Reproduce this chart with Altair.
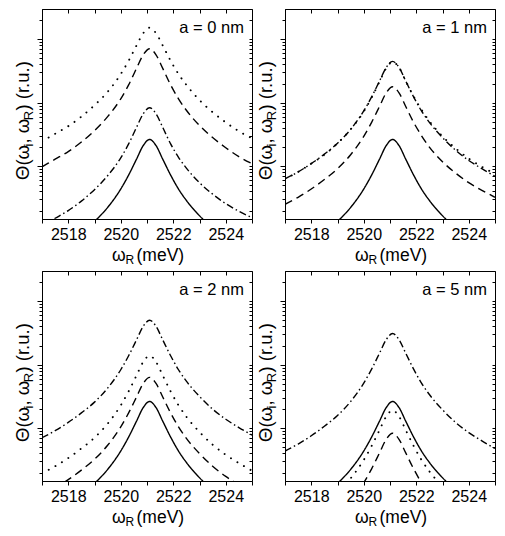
import altair as alt
import pandas as pd

X = [2517.0, 2517.5, 2518.0, 2518.5, 2519.0, 2519.5, 2520.0, 2520.3, 2520.6, 2520.85,
     2521.1, 2521.35, 2521.6, 2521.9, 2522.2, 2522.5, 2523.0, 2523.5, 2524.0, 2524.5, 2525.0]

# log10 of Theta (r.u.)
solid = [-0.43, -0.32, -0.19, -0.05, 0.13, 0.35, 0.64, 0.86, 1.11, 1.32, 1.42,
         1.32, 1.11, 0.86, 0.64, 0.46, 0.22, 0.02, -0.14, -0.27, -0.39]

a0_dotted = [1.39, 1.51, 1.63, 1.78, 1.96, 2.17, 2.45, 2.66, 2.90, 3.09, 3.18,
             3.09, 2.90, 2.66, 2.45, 2.28, 2.04, 1.85, 1.69, 1.55, 1.44]
a0_dashed = [0.99, 1.11, 1.23, 1.38, 1.56, 1.78, 2.06, 2.28, 2.54, 2.75, 2.85,
             2.75, 2.54, 2.28, 2.06, 1.88, 1.64, 1.45, 1.29, 1.15, 1.04]
a0_dashdot = [0.06, 0.18, 0.30, 0.45, 0.63, 0.85, 1.13, 1.35, 1.61, 1.82, 1.92,
              1.82, 1.61, 1.35, 1.14, 0.97, 0.74, 0.56, 0.41, 0.29, 0.19]

a1_dotted = [0.80, 0.91, 1.04, 1.18, 1.36, 1.58, 1.86, 2.08, 2.33, 2.54, 2.64,
             2.55, 2.34, 2.10, 1.89, 1.71, 1.47, 1.28, 1.12, 0.99, 0.88]
a1_dashed = [0.40, 0.51, 0.64, 0.79, 0.96, 1.18, 1.47, 1.69, 1.94, 2.15, 2.25,
             2.15, 1.94, 1.69, 1.48, 1.30, 1.07, 0.89, 0.74, 0.62, 0.51]
a1_dashdot = [0.80, 0.91, 1.04, 1.19, 1.36, 1.58, 1.87, 2.09, 2.34, 2.55, 2.65,
              2.55, 2.34, 2.09, 1.87, 1.69, 1.45, 1.25, 1.09, 0.96, 0.84]

a2_dotted = [0.29, 0.40, 0.53, 0.68, 0.85, 1.07, 1.36, 1.58, 1.83, 2.04, 2.14,
             2.04, 1.83, 1.58, 1.36, 1.18, 0.94, 0.74, 0.58, 0.45, 0.33]
a2_dashed = [-0.05, 0.06, 0.19, 0.34, 0.51, 0.73, 1.02, 1.24, 1.49, 1.70, 1.80,
             1.70, 1.49, 1.24, 1.02, 0.84, 0.60, 0.40, 0.24, 0.11, -0.01]
a2_dashdot = [0.85, 0.96, 1.09, 1.24, 1.41, 1.63, 1.92, 2.14, 2.39, 2.60, 2.70,
              2.60, 2.39, 2.14, 1.92, 1.74, 1.50, 1.30, 1.14, 1.01, 0.89]

a5_dotted = [-0.57, -0.46, -0.33, -0.19, -0.01, 0.21, 0.50, 0.72, 0.97, 1.18, 1.28,
             1.18, 0.97, 0.72, 0.50, 0.32, 0.08, -0.12, -0.28, -0.41, -0.53]
a5_dashed = [-0.93, -0.82, -0.69, -0.55, -0.37, -0.15, 0.14, 0.36, 0.61, 0.82, 0.92,
             0.82, 0.61, 0.36, 0.14, -0.04, -0.29, -0.48, -0.64, -0.77, -0.89]
a5_dashdot = [0.64, 0.75, 0.88, 1.03, 1.20, 1.42, 1.71, 1.93, 2.18, 2.39, 2.49,
              2.39, 2.18, 1.93, 1.71, 1.53, 1.29, 1.09, 0.93, 0.80, 0.68]

panel_keys = ["a0", "a1", "a2", "a5"]
panel_labels = ["a = 0 nm", "a = 1 nm", "a = 2 nm", "a = 5 nm"]
styles = ["solid", "dashed", "dashdot"]
x_ticks = [2517, 2518, 2519, 2520, 2521, 2522, 2523, 2524, 2525]
y_ticks = [2, 3, 4, 5, 6, 7, 8, 9, 10, 20, 30, 40, 50, 60, 70, 80, 90,
           100, 200, 300, 400, 500, 600, 700, 800, 900, 1000, 2000]

series = {
    "a0": {"solid": solid, "dashed": a0_dashed, "dotted": a0_dotted, "dashdot": a0_dashdot},
    "a1": {"solid": solid, "dashed": a1_dashed, "dotted": a1_dotted, "dashdot": a1_dashdot},
    "a2": {"solid": solid, "dashed": a2_dashed, "dotted": a2_dotted, "dashdot": a2_dashdot},
    "a5": {"solid": solid, "dashed": a5_dashed, "dotted": a5_dotted, "dashdot": a5_dashdot},
}

rows = []
for k in panel_keys:
    for s in ["solid", "dashed", "dotted", "dashdot"]:
        for xv, lv in zip(X, series[k][s]):
            rows.append({"panel": k, "style": s, "x": xv, "y": 10 ** lv})
df = pd.DataFrame(rows)

W, H = 210, 210
FONT = "Liberation Sans"

xs = alt.Scale(domain=[2517, 2525], nice=False, zero=False)
ys = alt.Scale(type="log", domain=[10 ** 0.168, 10 ** 3.475], nice=False)

x_bottom = alt.Axis(values=x_ticks, format="d",
                    labelExpr="datum.value % 2 == 0 ? datum.label : ''",
                    title=None, tickSize=4, labelPadding=3, grid=False,
                    labelFlush=False, labelOverlap=False)
x_top = alt.Axis(orient="top", values=x_ticks, labels=False, title=None,
                 domain=False, grid=False, tickSize=alt.ExprRef(expr="-4"))
y_left = alt.Axis(values=y_ticks, labels=False, title=None, grid=False,
                  tickSize={"condition": {"test": "indexof([10,100,1000], datum.value) >= 0",
                                          "value": 5}, "value": 3})
y_right = alt.Axis(orient="right", values=y_ticks, labels=False, title=None,
                   domain=False, grid=False, tickSize=alt.ExprRef(expr="-3"))

dash_scale = alt.Scale(domain=styles, range=[[1, 0], [8, 5], [7, 3, 1.5, 3]])


def txt(text, x, y, size=16, angle=0, align="left", baseline="alphabetic"):
    return alt.Chart(pd.DataFrame({"t": [text]})).mark_text(
        font=FONT, fontSize=size, angle=angle, align=align, baseline=baseline,
        color="black").encode(x=alt.value(x), y=alt.value(y), text="t:N")


def panel(key, label):
    d = df[df.panel == key]
    lines = alt.Chart(d[d["style"] != "dotted"]).mark_line(
        color="black", strokeWidth=1.4, clip=True, interpolate="monotone").encode(
        x=alt.X("x:Q", scale=xs, axis=x_bottom),
        y=alt.Y("y:Q", scale=ys, axis=y_left),
        strokeDash=alt.StrokeDash("style:N", scale=dash_scale, legend=None),
        detail="style:N",
    )
    dots = alt.Chart(d[d["style"] == "dotted"]).mark_line(
        color="black", strokeWidth=1.9, clip=True, interpolate="monotone",
        strokeCap="round", strokeDash=[0.1, 7.5]).encode(
        x=alt.X("x:Q", scale=xs, axis=None),
        y=alt.Y("y:Q", scale=ys, axis=None),
    )
    frame = alt.Chart(d).mark_line(opacity=0).encode(
        x=alt.X("x:Q", scale=xs, axis=x_top),
        y=alt.Y("y:Q", scale=ys, axis=y_right),
        detail="style:N",
    )
    layers = [lines, dots, frame,
              txt(label, W - 8, 24, size=16.5, align="right"),
              # x title: ω_R (meV)
              txt("ω", 70, H + 42, size=17.5),
              txt("R", 83.5, H + 45, size=12),
              txt("(meV)", 94.5, H + 42, size=17.5),
              # y title: Θ(ω_i, ω_R) (r.u.)
              txt("Θ(ω", -13, 171, size=18.5, angle=270),
              txt("i", -9.5, 137.5, size=13, angle=270),
              txt(", ω", -13, 134.5, size=18.5, angle=270),
              txt("R", -9.5, 111.3, size=13, angle=270),
              txt(") (r.u.)", -13, 101.5, size=18.5, angle=270)]
    return alt.layer(*layers).properties(width=W, height=H).resolve_axis(
        x="independent", y="independent")


p = [panel(k, l) for k, l in zip(panel_keys, panel_labels)]
chart = alt.concat(*p, columns=2, spacing={"row": 52, "column": 33},
                   bounds="flush").properties(
    padding={"left": 5, "top": 0, "right": 0, "bottom": 0},
    background="white",
).configure_view(stroke="black", strokeWidth=1).configure_axis(
    labelFont=FONT, labelFontSize=16, labelColor="black",
    tickColor="black", domainColor="black", tickWidth=1, domainWidth=1,
)

chart.save("out.html", embed_options={"renderer": "svg", "actions": False})
